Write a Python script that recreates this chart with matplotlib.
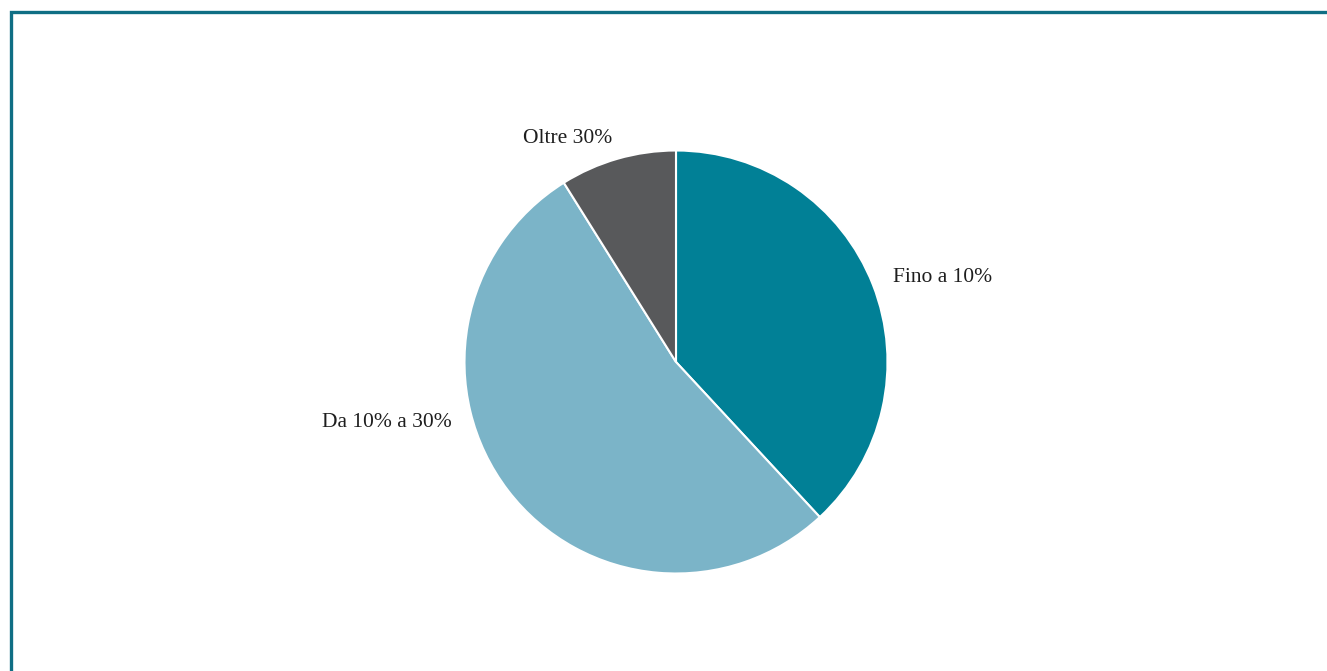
import matplotlib.pyplot as plt
import numpy as np
from matplotlib.patches import Rectangle

# Dati
categorie = ['Fino a 10%', 'Da 10% a 30%', 'Oltre 30%']
valori = [38.1, 53.0, 8.9]
colori = ['#018096', '#7bb4c8', '#58595b']

fig = plt.figure(figsize=(13.27, 6.71), dpi=100)

# cornice
fig.patches.append(Rectangle((11 / 1327, -0.1), 1.2, (671 - 12) / 671 + 0.1,
                             transform=fig.transFigure, fill=False,
                             edgecolor='#0f6e84', linewidth=2.4))

cx, cy, r = 676, 362, 211.5
ax = fig.add_axes([(cx - r) / 1327, (671 - cy - r) / 671, 2 * r / 1327, 2 * r / 671])

wedges, testi = ax.pie(valori, labels=categorie, colors=colori, startangle=90,
                       counterclock=False, labeldistance=1.1,
                       wedgeprops=dict(edgecolor='white', linewidth=1.5),
                       textprops=dict(family='Liberation Serif', fontsize=15.5, color='#1e1e1e'))
ax.set_xlim(-1, 1)
ax.set_ylim(-1, 1)

# etichetta centrale spostata più in alto, come nell'originale
ang = np.deg2rad(195)
testi[1].set_position((1.1 * np.cos(ang), 1.1 * np.sin(ang)))

fig.savefig('out.png', dpi=100)
